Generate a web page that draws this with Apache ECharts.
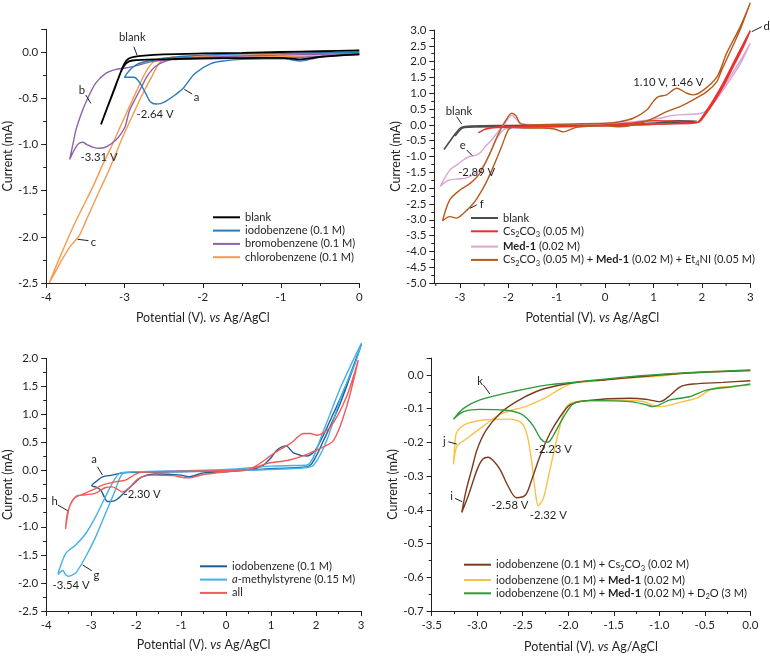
<!DOCTYPE html>
<html><head><meta charset="utf-8">
<script src="https://cdn.jsdelivr.net/npm/echarts@6/dist/echarts.min.js"></script>
<style>html,body{margin:0;padding:0;background:#fff}#c{width:770px;height:656px}</style>
</head><body><div id="c"></div>
<script>
// ---------------- DATA ----------------
// Panel 1 (top-left): x in V, y in mA
const p1Blank = [[0,0.02],[-0.5,0.012],[-1.0,0.004],[-1.5,-0.005],[-2.0,-0.012],[-2.5,-0.022],[-2.75,-0.035],[-2.88,-0.05],[-2.95,-0.07],[-3.0,-0.12],[-3.06,-0.24],[-3.15,-0.44],[-3.3,-0.78],[-3.22,-0.6],[-3.12,-0.38],[-3.04,-0.2],[-2.98,-0.12],[-2.9,-0.088],[-2.5,-0.075],[-2.0,-0.065],[-1.5,-0.062],[-1.0,-0.06],[-0.75,-0.075],[-0.5,-0.05],[-0.25,-0.032],[0,-0.022]];
const p1Iodo = [[0,0.0],[-0.5,-0.005],[-1.0,-0.01],[-1.5,-0.015],[-2.0,-0.03],[-2.18,-0.04],[-2.4,-0.055],[-2.57,-0.076],[-2.7,-0.095],[-2.78,-0.11],[-2.86,-0.14],[-2.92,-0.18],[-2.97,-0.23],[-3.0,-0.27],[-2.88,-0.27],[-2.8,-0.336],[-2.73,-0.444],[-2.67,-0.535],[-2.6,-0.56],[-2.54,-0.555],[-2.48,-0.535],[-2.35,-0.46],[-2.25,-0.39],[-2.1,-0.23],[-1.89,-0.12],[-1.7,-0.09],[-1.51,-0.076],[-1.2,-0.07],[-0.95,-0.07],[-0.75,-0.095],[-0.6,-0.07],[-0.45,-0.045],[-0.2,-0.03],[0,-0.022]];
const p1Bromo = [[0,-0.015],[-0.5,-0.02],[-1,-0.03],[-1.5,-0.04],[-2,-0.055],[-2.35,-0.07],[-2.52,-0.11],[-2.6,-0.15],[-2.65,-0.19],[-2.72,-0.27],[-2.78,-0.37],[-2.86,-0.5],[-2.94,-0.64],[-2.99,-0.8],[-3.05,-0.89],[-3.11,-0.95],[-3.22,-1.02],[-3.31,-1.04],[-3.4,-1.03],[-3.48,-1.0],[-3.535,-0.975],[-3.6,-1.0],[-3.7,-1.16],[-3.66,-1.0],[-3.62,-0.84],[-3.55,-0.66],[-3.49,-0.535],[-3.37,-0.336],[-3.24,-0.228],[-3.11,-0.184],[-2.99,-0.17],[-2.82,-0.138],[-2.65,-0.10],[-2.44,-0.08],[-2,-0.07],[-1.5,-0.065],[-1,-0.06],[-0.5,-0.045],[0,-0.025]];
const p1Chloro = [[0,0.0],[-0.5,-0.01],[-1,-0.02],[-1.5,-0.03],[-2,-0.04],[-2.3,-0.045],[-2.48,-0.065],[-2.56,-0.12],[-2.65,-0.26],[-2.78,-0.47],[-2.9,-0.69],[-3.03,-0.93],[-3.2,-1.28],[-3.32,-1.5],[-3.41,-1.67],[-3.5,-1.84],[-3.58,-1.99],[-3.64,-2.05],[-3.70,-2.11],[-3.8,-2.25],[-3.96,-2.5],[-3.88,-2.33],[-3.78,-2.13],[-3.65,-1.88],[-3.535,-1.68],[-3.4,-1.45],[-3.28,-1.22],[-3.156,-1.0],[-3.03,-0.76],[-2.9,-0.52],[-2.78,-0.3],[-2.69,-0.16],[-2.6,-0.085],[-2.5,-0.06],[-2,-0.055],[-1.5,-0.05],[-1,-0.045],[-0.5,-0.035],[0,-0.02]];

// Panel 2 (top-right)
const p2Blank = [[-3.33,-0.78],[-3.2,-0.5],[-3.08,-0.25],[-2.98,-0.09],[-2.9,-0.05],[-2.5,-0.03],[-2,-0.02],[-1,-0.01],[0,0.0],[1,0.06],[1.5,0.13],[1.9,0.12],[1.5,0.08],[1,0.02],[0,-0.03],[-1,-0.05],[-2,-0.06],[-2.8,-0.07],[-2.95,-0.1],[-3.1,-0.35]];
const p2Cs = [[-2.62,-0.25],[-2.45,-0.12],[-2.2,-0.08],[-1.8,-0.07],[-1,-0.05],[0,-0.02],[1,0.02],[1.5,0.04],[1.85,0.06],[1.93,0.1],[2.05,0.35],[2.24,0.79],[2.45,1.35],[2.65,1.95],[2.85,2.55],[3.0,2.98],[2.85,2.45],[2.65,1.85],[2.45,1.25],[2.24,0.7],[2.05,0.28],[1.95,0.1],[1.8,0.07],[1.4,0.12],[1.0,0.13],[0.5,0.05],[0,0.0],[-1,-0.03],[-1.8,-0.05],[-2.3,-0.08],[-2.5,-0.15]];
const p2Med = [[-3.41,-1.95],[-3.3,-1.8],[-3.21,-1.74],[-3.05,-1.71],[-2.9,-1.69],[-2.75,-1.6],[-2.59,-1.43],[-2.48,-1.2],[-2.38,-0.9],[-2.27,-0.5],[-2.17,-0.27],[-2.05,-0.12],[-1.9,-0.1],[-1.5,-0.1],[-1,-0.08],[0,-0.03],[1,0.02],[1.8,0.05],[1.95,0.12],[2.1,0.4],[2.3,0.85],[2.55,1.45],[2.8,2.05],[3.0,2.58],[2.8,1.95],[2.55,1.35],[2.3,0.8],[2.1,0.45],[1.95,0.35],[1.7,0.33],[1.4,0.3],[1.1,0.2],[0.6,0.1],[0,0.03],[-1,0.0],[-1.72,0.03],[-1.85,0.2],[-1.93,0.31],[-2.0,0.2],[-2.07,0.05],[-2.24,-0.27],[-2.36,-0.5],[-2.48,-0.69],[-2.56,-0.85],[-2.65,-0.95],[-2.8,-1.0],[-2.93,-1.11],[-3.05,-1.25],[-3.21,-1.43],[-3.41,-1.95]];
const p2Mix = [[0,-0.02],[-0.3,-0.04],[-0.6,-0.08],[-0.86,-0.22],[-1.05,-0.13],[-1.3,-0.1],[-1.6,-0.1],[-1.9,-0.08],[-2.0,-0.16],[-2.14,-0.69],[-2.31,-1.32],[-2.42,-1.7],[-2.52,-2.0],[-2.72,-2.48],[-2.93,-2.8],[-3.07,-2.95],[-3.21,-2.9],[-3.36,-3.03],[-3.21,-2.37],[-3.0,-2.06],[-2.79,-1.85],[-2.59,-1.53],[-2.38,-0.9],[-2.2,-0.27],[-2.07,0.1],[-1.93,0.37],[-1.84,0.28],[-1.76,0.05],[-1.6,0.0],[-1.0,0.02],[0,0.05],[0.3,0.1],[0.58,0.21],[0.86,0.47],[1.0,0.75],[1.1,0.89],[1.27,0.95],[1.48,1.16],[1.69,1.0],[1.82,0.95],[2.03,1.1],[2.31,1.52],[2.51,2.26],[2.79,3.1],[3.0,3.86],[2.8,3.05],[2.55,2.2],[2.4,1.7],[2.31,1.37],[2.1,1.05],[1.82,0.79],[1.55,0.58],[1.27,0.42],[1.0,0.21],[0.72,0.05],[0.31,-0.06],[0,-0.02]];

// Panel 3 (bottom-left)
const p3Iodo = [[0,-0.02],[-0.5,-0.04],[-0.84,-0.11],[-1.0,-0.08],[-1.58,-0.06],[-1.87,-0.11],[-2.09,-0.26],[-2.31,-0.43],[-2.49,-0.54],[-2.64,-0.55],[-2.72,-0.45],[-2.79,-0.345],[-2.9,-0.29],[-2.99,-0.27],[-2.9,-0.2],[-2.75,-0.11],[-2.53,-0.08],[-2.3,-0.04],[-2,-0.03],[-1,-0.02],[0,0.0],[0.5,0.02],[0.8,0.08],[0.99,0.22],[1.14,0.37],[1.33,0.44],[1.51,0.31],[1.8,0.26],[1.99,0.37],[2.32,0.9],[2.68,1.55],[3.01,2.25],[2.54,1.2],[2.17,0.54],[1.91,0.13],[1.73,0.06],[1.07,0.04],[0.5,0.01],[0,-0.02]];
const p3Ams = [[0,0.0],[-1,-0.01],[-2,-0.02],[-2.27,-0.04],[-2.35,-0.11],[-2.49,-0.40],[-2.68,-0.76],[-2.9,-1.18],[-3.12,-1.53],[-3.34,-1.82],[-3.45,-1.87],[-3.52,-1.88],[-3.58,-1.84],[-3.63,-1.78],[-3.74,-1.85],[-3.70,-1.74],[-3.56,-1.47],[-3.34,-1.32],[-3.12,-1.12],[-2.9,-0.82],[-2.68,-0.46],[-2.49,-0.17],[-2.35,-0.04],[-2,-0.02],[-1,0.0],[0,0.02],[1,0.08],[1.5,0.09],[1.8,0.1],[2.17,0.72],[2.54,1.47],[3.01,2.27],[2.87,1.91],[2.55,1.3],[2.24,0.54],[1.95,0.1],[1.73,0.05],[1,0.02],[0,0.0]];
const p3All = [[0,0.0],[0.5,0.02],[0.7,0.1],[1.07,0.31],[1.44,0.49],[1.73,0.66],[1.87,0.66],[2.02,0.63],[2.32,0.78],[2.68,1.32],[2.94,1.97],[2.68,1.14],[2.39,0.54],[2.02,0.37],[1.66,0.25],[1.36,0.18],[0.92,0.13],[0.5,0.02],[0,-0.02],[-0.5,-0.07],[-0.84,-0.13],[-1.2,-0.09],[-1.65,-0.08],[-1.94,-0.14],[-2.16,-0.31],[-2.31,-0.38],[-2.42,-0.33],[-2.53,-0.29],[-2.68,-0.30],[-2.9,-0.40],[-3.12,-0.43],[-3.34,-0.46],[-3.48,-0.64],[-3.57,-1.04],[-3.52,-0.73],[-3.37,-0.49],[-3.19,-0.42],[-2.97,-0.345],[-2.75,-0.26],[-2.46,-0.2],[-2.24,-0.17],[-1.94,-0.04],[-1.5,-0.02],[-1,-0.01],[0,0.0]];

// Panel 4 (bottom-right)
const p4Cs = [[0,0.013],[-0.5,0.008],[-1.0,0.0],[-1.32,-0.008],[-1.6,-0.015],[-1.87,-0.02],[-2.13,-0.032],[-2.35,-0.049],[-2.57,-0.079],[-2.75,-0.114],[-2.9,-0.163],[-3.0,-0.22],[-3.06,-0.28],[-3.12,-0.34],[-3.17,-0.408],[-3.10,-0.36],[-3.0,-0.28],[-2.94,-0.25],[-2.88,-0.244],[-2.82,-0.255],[-2.75,-0.28],[-2.66,-0.33],[-2.57,-0.364],[-2.47,-0.356],[-2.40,-0.31],[-2.31,-0.24],[-2.20,-0.173],[-2.09,-0.124],[-1.98,-0.089],[-1.80,-0.076],[-1.32,-0.069],[-1.15,-0.072],[-0.99,-0.079],[-0.88,-0.06],[-0.77,-0.035],[-0.63,-0.027],[-0.3,-0.022],[0,-0.017]];
const p4Med = [[0,0.013],[-0.5,0.01],[-0.7,0.007],[-1.0,-0.003],[-1.5,-0.012],[-1.8,-0.02],[-1.96,-0.025],[-2.11,-0.045],[-2.26,-0.069],[-2.47,-0.094],[-2.73,-0.114],[-2.99,-0.163],[-3.12,-0.19],[-3.22,-0.21],[-3.26,-0.265],[-3.25,-0.22],[-3.23,-0.173],[-3.18,-0.155],[-3.10,-0.143],[-2.91,-0.133],[-2.66,-0.131],[-2.51,-0.143],[-2.45,-0.18],[-2.40,-0.26],[-2.36,-0.35],[-2.33,-0.388],[-2.28,-0.37],[-2.24,-0.33],[-2.20,-0.28],[-2.11,-0.173],[-2.02,-0.094],[-1.91,-0.079],[-1.5,-0.075],[-1.2,-0.078],[-0.99,-0.094],[-0.74,-0.079],[-0.59,-0.069],[-0.41,-0.04],[-0.2,-0.034],[0,-0.030]];
const p4D2O = [[0,0.015],[-0.77,0.005],[-1.32,-0.005],[-1.87,-0.02],[-2.24,-0.030],[-2.60,-0.049],[-2.97,-0.074],[-3.15,-0.099],[-3.26,-0.131],[-3.15,-0.109],[-2.97,-0.102],[-2.71,-0.104],[-2.53,-0.114],[-2.45,-0.13],[-2.38,-0.153],[-2.3,-0.19],[-2.24,-0.2],[-2.2,-0.195],[-2.15,-0.173],[-2.05,-0.124],[-1.94,-0.084],[-1.76,-0.076],[-1.32,-0.079],[-1.15,-0.088],[-1.07,-0.094],[-0.88,-0.074],[-0.66,-0.064],[-0.48,-0.045],[-0.2,-0.035],[0,-0.027]];

// Tick labels
const p2XTicks = [-3,-2,-1,0,1,2,3];
const p2XMinor = [-3.5,-2.5,-1.5,-0.5,0.5,1.5,2.5];

// Annotations [panel, text, x, y] and leader lines [panel, x1, y1, x2, y2]
const annots = [
 [0,'blank',-2.90,0.158],[0,'b',-3.544,-0.408],[0,'a',-2.08,-0.492],[0,'-2.64 V',-2.61,-0.668],[0,'-3.31 V',-3.324,-1.142],[0,'c',-3.396,-2.063],
 [1,'blank',-3.02,0.44],[1,'e',-2.943,-0.658],[1,'-2.89 V',-2.654,-1.499],[1,'f',-2.551,-2.501],[1,'d',3.34,3.127],[1,'1.10 V, 1.46 V',1.306,1.334],
 [2,'a',-2.934,0.201],[2,'-2.30 V',-1.870,-0.417],[2,'h',-3.815,-0.541],[2,'g',-2.883,-1.859],[2,'-3.54 V',-3.449,-2.05],
 [3,'k',-2.969,-0.0199],[3,'j',-3.362,-0.198],[3,'-2.23 V',-2.164,-0.222],[3,'i',-3.28,-0.359],[3,'-2.58 V',-2.64,-0.386],[3,'-2.32 V',-2.219,-0.415]
];
const leaders = [
 [0,-2.88,0.06,-2.84,-0.03],[0,-3.494,-0.463,-3.43,-0.553],[0,-2.236,-0.40,-2.134,-0.452],[0,-3.599,-2.026,-3.46,-2.041],
 [1,-3.067,0.259,-2.964,0.028],[1,-2.861,-0.794,-2.745,-0.974],[1,-2.792,-2.637,-2.654,-2.533],[1,3.03,2.947,3.237,3.105],
 [2,-2.861,0.069,-2.751,-0.078],[2,-3.742,-0.613,-3.522,-0.714],[2,-3.191,-1.681,-2.987,-1.782],
 [3,-2.933,-0.0297,-2.860,-0.0564],[3,-3.318,-0.198,-3.225,-0.205],[3,-3.244,-0.366,-3.164,-0.376]
];

// ---------------- CHART ----------------
const FONT = 'Lato, "Open Sans", sans-serif';
const TXT = '#231f20';
const LFS = 11.1;
const chart = echarts.init(document.getElementById('c'), null, {renderer:'canvas'});

function fmt(step, dec){
  return v => { const r = v/step; if (Math.abs(r-Math.round(r))>1e-6) return ''; let x = Math.round(r)*step; if (Math.abs(x)<1e-9) x = 0; return x.toFixed(dec); };
}
const richT = {
  t:{fontSize:LFS, fontFamily:FONT, color:TXT, lineHeight:15},
  b:{fontSize:LFS, fontFamily:FONT, color:TXT, lineHeight:15, fontWeight:'bold'},
  i:{fontSize:LFS, fontFamily:FONT, color:TXT, lineHeight:15, fontStyle:'italic'},
  s:{fontSize:7.5, fontFamily:FONT, color:TXT, lineHeight:8, verticalAlign:'bottom'}
};
const legendLabels = {
  'p1:blank':'{t|blank}',
  'p1:iodo':'{t|iodobenzene (0.1 M)}',
  'p1:bromo':'{t|bromobenzene (0.1 M)}',
  'p1:chloro':'{t|chlorobenzene (0.1 M)}',
  'p2:blank':'{t|blank}',
  'p2:cs':'{t|Cs}{s|2}{t|CO}{s|3}{t| (0.05 M)}',
  'p2:med':'{b|Med-1}{t| (0.02 M)}',
  'p2:mix':'{t|Cs}{s|2}{t|CO}{s|3}{t| (0.05 M) + }{b|Med-1}{t| (0.02 M) + Et}{s|4}{t|NI (0.05 M)}',
  'p3:iodo':'{t|iodobenzene (0.1 M)}',
  'p3:ams':'{i|a}{t|-methylstyrene (0.15 M)}',
  'p3:all':'{t|all}',
  'p4:cs':'{t|iodobenzene (0.1 M) + Cs}{s|2}{t|CO}{s|3}{t| (0.02 M)}',
  'p4:med':'{t|iodobenzene (0.1 M) + }{b|Med-1}{t| (0.02 M)}',
  'p4:d2o':'{t|iodobenzene (0.1 M) + }{b|Med-1}{t| (0.02 M) + D}{s|2}{t|O (3 M)}'
};
function legend(left, top, names){
  return {orient:'vertical', left:left, top:top, padding:0, itemWidth:27, itemHeight:2, itemGap:2.3,
    icon:'rect', selectedMode:false, data:names,
    formatter: n => legendLabels[n],
    textStyle:{fontSize:LFS, fontFamily:FONT, color:TXT, rich:richT}};
}
const xName = '{t|Potential (V). }{i|vs}{t| Ag/AgCl}';
const nameRich = {
  t:{fontSize:12.5, fontFamily:FONT, color:TXT},
  i:{fontSize:12.5, fontFamily:FONT, color:TXT, fontStyle:'italic'}
};
const axLine = {onZero:false, lineStyle:{color:TXT, width:1}};
function xAx(gi, min, max, interval, f, gap, extra){
  return Object.assign({type:'value', gridIndex:gi, min:min, max:max, interval:interval, position:'bottom',
    axisLine:axLine, axisTick:{length:5, lineStyle:{color:TXT}},
    minorTick:{show:true, splitNumber:2, length:3, lineStyle:{color:TXT}},
    splitLine:{show:false}, minorSplitLine:{show:false},
    axisLabel:{margin:8, color:TXT, fontSize:11.5, fontFamily:FONT, formatter:f},
    name:xName, nameLocation:'middle', nameGap:gap, nameTextStyle:{fontSize:12.5, fontFamily:FONT, color:TXT, rich:nameRich}
  }, extra||{});
}
function yAx(gi, min, max, interval, f, gap){
  return {type:'value', gridIndex:gi, min:min, max:max, interval:interval, position:'left',
    axisLine:axLine, axisTick:{length:5, lineStyle:{color:TXT}},
    minorTick:{show:true, splitNumber:2, length:3, lineStyle:{color:TXT}},
    splitLine:{show:false}, minorSplitLine:{show:false},
    axisLabel:{margin:8, color:TXT, fontSize:11.5, fontFamily:FONT, formatter:f},
    name:'Current (mA)', nameLocation:'middle', nameGap:gap, nameRotate:90,
    nameTextStyle:{fontSize:12.5, fontFamily:FONT, color:TXT}};
}
function line(name, ai, data, color, w, z){
  return {type:'line', name:name, xAxisIndex:ai, yAxisIndex:ai, data:data, showSymbol:false, symbol:'none',
    smooth:0.3, clip:false, lineStyle:{width:w||1.4, color:color}, itemStyle:{color:color}, z:z||2, silent:true};
}

const option = {
  animation:false,
  backgroundColor:'#fff',
  grid:[
    {left:43.3, top:29.3, width:316, height:253.7},
    {left:434.3, top:30, width:316, height:253},
    {left:43.3, top:358.3, width:317.7, height:252.7},
    {left:431.7, top:358.1, width:318.6, height:252.9}
  ],
  xAxis:[
    xAx(0,-4,0,1,fmt(1,0),28),
    xAx(1,-3.53,3,null,v=>String(Math.round(v)),28,{interval:undefined,
       axisTick:{length:5, lineStyle:{color:TXT}, customValues:p2XTicks},
       axisLabel:{margin:8, color:TXT, fontSize:11.5, fontFamily:FONT, customValues:p2XTicks, formatter:v=>String(Math.round(v))},
       minorTick:{show:false}}),
    xAx(2,-4,3,1,fmt(1,0),27),
    xAx(3,-3.5,0,0.5,fmt(0.5,1),29)
  ],
  yAxis:[
    yAx(0,-2.5,0.25,0.5,fmt(0.5,1),30),
    yAx(1,-5,3,0.5,fmt(0.5,1),29.5),
    yAx(2,-2.5,2.0,0.5,fmt(0.5,1),30),
    yAx(3,-0.7,0.05,0.1,fmt(0.1,1),28.5)
  ],
  legend:[
    legend(213, 211.8, ['p1:blank','p1:iodo','p1:bromo','p1:chloro']),
    legend(471, 212.5, ['p2:blank','p2:cs','p2:med','p2:mix']),
    legend(200, 560.8, ['p3:iodo','p3:ams','p3:all']),
    legend(464, 559.2, ['p4:cs','p4:med','p4:d2o'])
  ],
  series:[
    line('p1:chloro',0,p1Chloro,'#f79a4e',1.4),
    line('p1:bromo',0,p1Bromo,'#8e63a8',1.4),
    line('p1:iodo',0,p1Iodo,'#2b7bb9',1.4),
    line('p1:blank',0,p1Blank,'#000000',1.8,3),
    line('p2:blank',1,p2Blank,'#4d4d4d',1.6),
    line('p2:med',1,p2Med,'#dba6d6',1.4),
    line('p2:cs',1,p2Cs,'#e8322b',1.5),
    line('p2:mix',1,p2Mix,'#b85a1c',1.4),
    line('p3:iodo',2,p3Iodo,'#1c5e99',1.4),
    line('p3:ams',2,p3Ams,'#44b2e6',1.4),
    line('p3:all',2,p3All,'#ee5c5c',1.4),
    line('p4:med',3,p4Med,'#f7c344',1.4),
    line('p4:cs',3,p4Cs,'#7a3b1f',1.4),
    line('p4:d2o',3,p4D2O,'#2e9a3a',1.4)
  ]
};
chart.setOption(option);

const g = [];
function px(ai, x, y){ return chart.convertToPixel({xAxisIndex:ai, yAxisIndex:ai}, [x, y]); }
// minor ticks of the top-right x axis (axis decoration, positioned through the axis scale)
p2XMinor.forEach(v => {
  const p = px(1, v, -5);
  g.push({type:'line', silent:true, z:10, shape:{x1:p[0], y1:p[1], x2:p[0], y2:p[1]+3}, style:{stroke:TXT, lineWidth:1}});
});
annots.forEach(a => {
  const p = px(a[0], a[2], a[3]);
  g.push({type:'text', x:p[0], y:p[1], silent:true, z:10,
    style:{text:a[1], fontSize:11.3, fontFamily:FONT, fill:TXT, align:'center', verticalAlign:'middle', textAlign:'center', textVerticalAlign:'middle'}});
});
leaders.forEach(l => {
  const a = px(l[0], l[1], l[2]), b = px(l[0], l[3], l[4]);
  g.push({type:'line', silent:true, z:10, shape:{x1:a[0], y1:a[1], x2:b[0], y2:b[1]}, style:{stroke:TXT, lineWidth:1}});
});
chart.setOption({graphic:g});
</script></body></html>
